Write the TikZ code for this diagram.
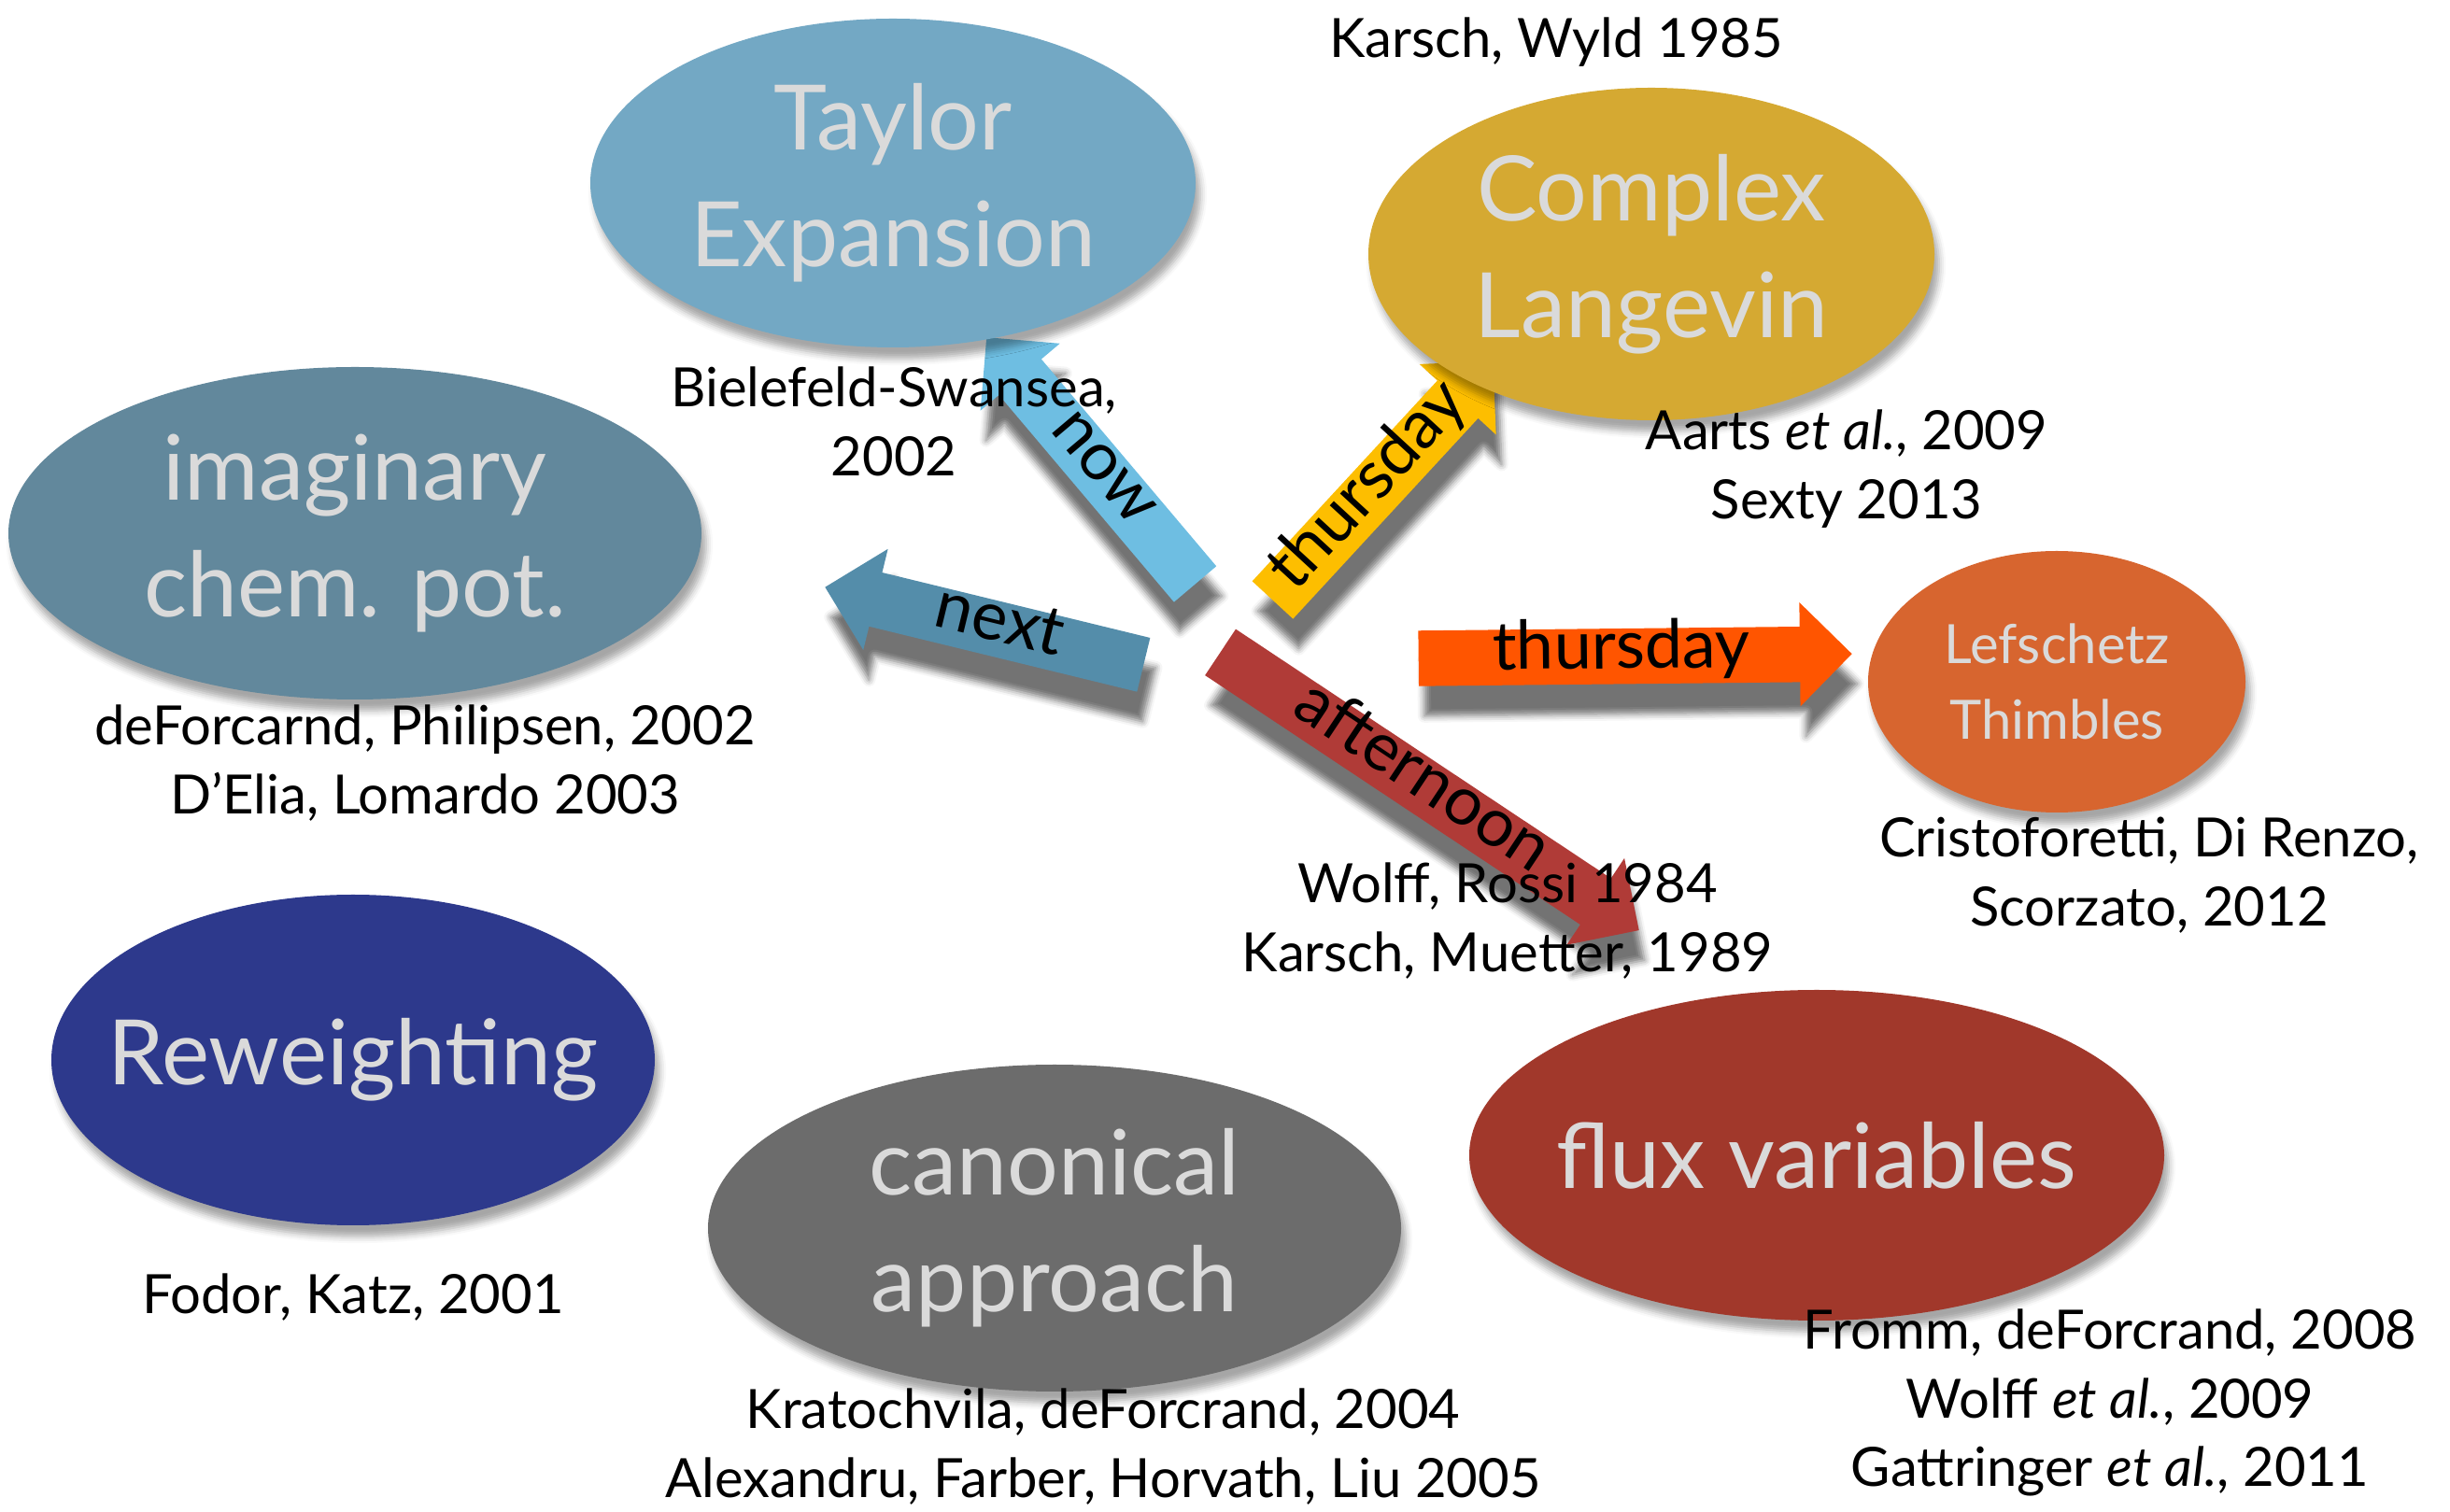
\documentclass[tikz,border=0pt]{standalone}
\usepackage{fontspec}
\setmainfont{Lato}
\usetikzlibrary{shapes.geometric,shapes.arrows,shadows.blur}

\definecolor{taylorcol}{RGB}{115,168,196}
\definecolor{langevincol}{RGB}{213,169,50}
\definecolor{imagcol}{RGB}{98,136,156}
\definecolor{lefschetzcol}{RGB}{215,101,47}
\definecolor{reweightcol}{RGB}{45,57,140}
\definecolor{canonicalcol}{RGB}{108,108,108}
\definecolor{fluxcol}{RGB}{161,56,43}
\definecolor{nowcol}{RGB}{110,190,226}
\definecolor{thurscol}{RGB}{253,190,0}
\definecolor{nextcol}{RGB}{84,141,170}
\definecolor{orangecol}{RGB}{255,85,0}
\definecolor{afternooncol}{RGB}{176,59,55}
\definecolor{methodtext}{RGB}{218,218,218}

\begin{document}
\begin{tikzpicture}[
	method/.style={ellipse, inner sep=-1.5cm, align=center, text=methodtext,
		font=\fontsize{27.5}{35.5}\selectfont,
		blur shadow={shadow xshift=0.05cm, shadow yshift=-0.12cm, shadow opacity=35}},
	ref/.style={align=center, font=\fontsize{16.5}{21}\selectfont},
	talk/.style={single arrow, anchor=tail, inner xsep=0.15cm, inner ysep=0.06cm,
		text height=0.36cm, text depth=0.1cm, single arrow head extend=0.26cm,
		font=\fontsize{20.5}{20.5}\selectfont,
		blur shadow={shadow xshift=0.06cm, shadow yshift=-0.32cm, shadow opacity=55}}
]
\useasboundingbox (0, 0) rectangle (26.23, 16.19);

\node[talk, fill=nowcol, rotate=-49.8, shape border rotate=180, minimum height=3.46cm] (now) at (12.80, 9.93) {now};
\node[talk, fill=thurscol, rotate=47.3, minimum height=3.48cm] (thurs) at (13.62, 9.76) {thursday};
\node[talk, fill=nextcol, rotate=-13.7, shape border rotate=180, minimum height=3.51cm] (next) at (12.25, 9.07) {next};
\node[talk, fill=orangecol, rotate=0.6, minimum height=4.64cm] (thurs2) at (15.18, 9.14) {thursday};
\node[talk, fill=afternooncol, rotate=-33.6, minimum height=5.38cm] (afternoon) at (13.06, 9.21) {afternoon};

\node[method, fill=taylorcol, minimum width=6.48cm, minimum height=3.52cm] (taylor) at (9.56, 14.23) {Taylor\\Expansion};
\node[method, fill=langevincol, minimum width=6.06cm, minimum height=3.56cm] (langevin) at (17.68, 13.47) {Complex\\Langevin};
\node[method, fill=imagcol, minimum width=7.42cm, minimum height=3.56cm] (imag) at (3.80, 10.48) {imaginary\\chem. pot.};
\node[method, fill=lefschetzcol, minimum width=4.04cm, minimum height=2.80cm, font=\fontsize{16.5}{23}\selectfont] (lefschetz) at (22.02, 8.89) {Lefschetz\\Thimbles};
\node[method, fill=reweightcol, minimum width=6.46cm, minimum height=3.54cm] (reweight) at (3.78, 4.84) {Reweighting};
\node[method, fill=canonicalcol, minimum width=7.42cm, minimum height=3.50cm] (canonical) at (11.29, 3.04) {canonical\\approach};
\node[method, fill=fluxcol, minimum width=7.44cm, minimum height=3.54cm] (flux) at (19.45, 3.82) {flux variables};

\node[ref] (karsch) at (16.66, 15.74) {Karsch, Wyld 1985};
\node[ref] (bielefeld) at (9.57, 11.68) {Bielefeld-Swansea,\\2002};
\node[ref] (aarts) at (19.77, 11.17) {Aarts \textit{et al.}, 2009\\Sexty 2013};
\node[ref] (deforcrand) at (4.55, 8.02) {deForcarnd, Philipsen, 2002\\D’Elia, Lomardo 2003};
\node[ref] (cristoforetti) at (23.01, 6.82) {Cristoforetti, Di Renzo,\\Scorzato, 2012};
\node[ref] (wolff) at (16.14, 6.33) {Wolff, Rossi 1984\\Karsch, Muetter, 1989};
\node[ref] (fodor) at (3.78, 2.30) {Fodor, Katz, 2001};
\node[ref] (kratochvila) at (11.81, 0.70) {Kratochvila, deForcrand, 2004\\Alexandru, Farber, Horvath, Liu 2005};
\node[ref] (fromm) at (22.59, 1.17) {Fromm, deForcrand, 2008\\Wolff \textit{et al.}, 2009\\Gattringer \textit{et al.}, 2011};
\end{tikzpicture}
\end{document}
